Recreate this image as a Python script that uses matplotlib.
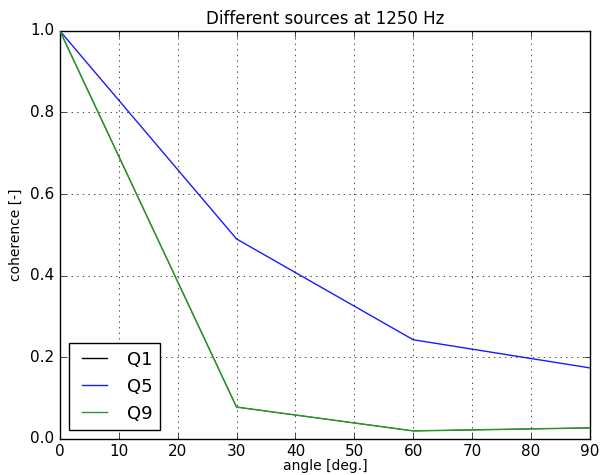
import numpy as np
import matplotlib
matplotlib.use('Agg')
import matplotlib.pyplot as plt

plt.style.use('classic')

# angles and coherence values per source
angles = [0, 30, 60, 90]
q1 = [1.0, 0.078, 0.0196, 0.027]
q5 = [1.0, 0.490, 0.243, 0.174]
q9 = [1.0, 0.078, 0.0196, 0.027]

fig = plt.figure(figsize=(6.05, 4.75), dpi=100, facecolor='white')
ax = fig.add_axes([0.099, 0.076, 0.876, 0.859])

# Q1 sits exactly under Q9, so keep it thin and behind
ax.plot(angles, q1, color='k', lw=0.6, zorder=1, label='Q1')
ax.plot(angles, q5, color='#1a1aff', zorder=2, label='Q5')
ax.plot(angles, q9, color='#2a962a', lw=1.1, zorder=3, label='Q9')

ax.set_xlim(0, 90)
ax.set_ylim(0, 1.0)
ax.set_xticks(np.arange(0, 91, 10))
ax.set_yticks(np.arange(0, 1.01, 0.2))
ax.grid(True)
ax.tick_params(labelsize=11)
ax.set_xlabel('angle [deg.]', fontsize=10, labelpad=0)
ax.set_ylabel('coherence [-]', fontsize=10)
ax.set_title('Different sources at 1250 Hz', fontsize=12)
leg = ax.legend(loc='lower left', fontsize=13)
for line in leg.get_lines():
    line.set_linewidth(1.0)

fig.savefig('out.png', dpi=100, facecolor='white')
